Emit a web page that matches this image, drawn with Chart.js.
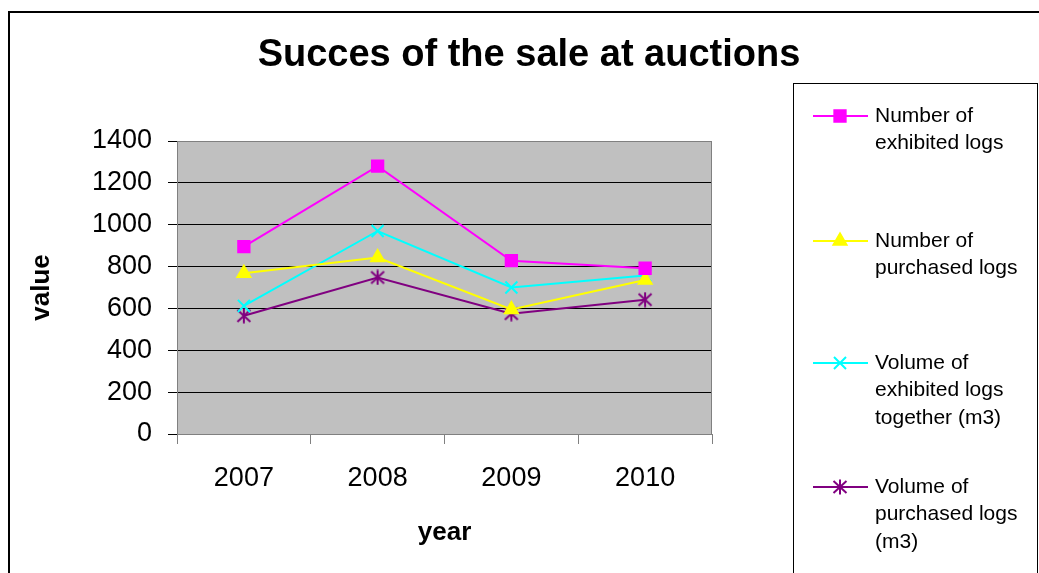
<!DOCTYPE html>
<html>
<head>
<meta charset="utf-8">
<title>Succes of the sale at auctions</title>
<script src="https://cdn.jsdelivr.net/npm/chart.js@4.4.0/dist/chart.umd.min.js"></script>
<style>
  html, body { margin: 0; padding: 0; background: #fff; }
</style>
</head>
<body>
<canvas id="auctionChart" width="1039" height="573"></canvas>
<script>
const years = ['2007', '2008', '2009', '2010'];
const exhibitedLogs = [895, 1280, 828, 792];
const purchasedLogs = [768, 843, 595, 736];
const exhibitedVolume = [612, 970, 700, 757];
const purchasedVolume = [565, 748, 575, 642];
const valueTicks = [0, 200, 400, 600, 800, 1000, 1200, 1400];

const legendLines = [
    ['Number of', 'exhibited logs'],
    ['Number of', 'purchased logs'],
    ['Volume of', 'exhibited logs', 'together (m3)'],
    ['Volume of', 'purchased logs', '(m3)']
];

const FONT = '"Liberation Sans", Arial, sans-serif';

// asterisk marker: an X with a vertical bar through it
function makeAsterisk(color) {
    const c = document.createElement('canvas');
    c.width = 16;
    c.height = 16;
    const g = c.getContext('2d');
    g.strokeStyle = color;
    g.lineWidth = 2;
    g.beginPath();
    g.moveTo(1.5, 2); g.lineTo(14.5, 14);
    g.moveTo(14.5, 2); g.lineTo(1.5, 14);
    g.moveTo(8, 0.5); g.lineTo(8, 15.5);
    g.stroke();
    return c;
}

function series(data, color, pointStyle, radius) {
    return {
        data: data,
        borderColor: color,
        backgroundColor: color,
        borderWidth: 2,
        pointStyle: pointStyle,
        pointRadius: radius,
        pointHoverRadius: radius,
        pointBorderWidth: 2,
        tension: 0
    };
}

const datasets = [
    series(exhibitedLogs, '#FF00FF', 'rect', 8),
    series(purchasedLogs, '#FFFF00', 'triangle', 7.5),
    series(exhibitedVolume, '#00FFFF', 'crossRot', 8.5),
    series(purchasedVolume, '#800080', makeAsterisk('#800080'), 8)
];

const framePlugin = {
    id: 'frame',
    beforeDraw(chart) {
        const { ctx, chartArea: a } = chart;
        ctx.save();
        ctx.fillStyle = '#C0C0C0';
        ctx.fillRect(a.left, a.top, a.right - a.left, a.bottom - a.top);
        ctx.restore();
    },
    beforeDatasetsDraw(chart) {
        const { ctx, chartArea: a } = chart;
        ctx.save();
        ctx.strokeStyle = '#808080';
        ctx.lineWidth = 1;
        ctx.strokeRect(a.left + 0.5, a.top + 0.5, a.right - a.left - 1, a.bottom - a.top);
        ctx.restore();
    },
    afterDraw(chart) {
        const ctx = chart.ctx;
        ctx.save();

        // outer border
        ctx.strokeStyle = '#000';
        ctx.lineWidth = 2;
        ctx.strokeRect(9, 12, 1100, 700);

        // title
        ctx.fillStyle = '#000';
        ctx.font = 'bold 38px ' + FONT;
        ctx.textAlign = 'center';
        ctx.textBaseline = 'middle';
        ctx.fillText('Succes of the sale at auctions', 529, 56);

        // legend box
        ctx.lineWidth = 1;
        ctx.strokeStyle = '#000';
        ctx.strokeRect(793.5, 83.5, 244, 600);

        const itemTops = [116, 241, 363, 487];
        ctx.font = '21px ' + FONT;
        ctx.textAlign = 'left';
        chart.data.datasets.forEach((ds, i) => {
            const y = itemTops[i];
            ctx.strokeStyle = ds.borderColor;
            ctx.fillStyle = ds.backgroundColor;
            ctx.lineWidth = 2;
            ctx.beginPath();
            ctx.moveTo(813, y);
            ctx.lineTo(868, y);
            ctx.stroke();
            Chart.helpers.drawPoint(ctx, {
                pointStyle: ds.pointStyle,
                radius: ds.pointRadius,
                rotation: 0,
                borderWidth: 2
            }, 840, y);
            ctx.fillStyle = '#000';
            legendLines[i].forEach((line, k) => {
                ctx.fillText(line, 875, y + k * 27.5);
            });
        });
        ctx.restore();
    }
};

new Chart(document.getElementById('auctionChart'), {
    type: 'line',
    data: { labels: years, datasets: datasets },
    plugins: [framePlugin],
    options: {
        responsive: false,
        animation: false,
        layout: { padding: { left: 0, top: 141, right: 327, bottom: 0 } },
        plugins: {
            legend: { display: false },
            title: { display: false },
            tooltip: { enabled: false }
        },
        scales: {
            x: {
                offset: true,
                grid: {
                    offset: true,
                    drawOnChartArea: false,
                    drawTicks: true,
                    tickLength: 10,
                    color: '#808080',
                    tickColor: '#808080'
                },
                border: { color: '#808080' },
                ticks: {
                    color: '#000',
                    font: { family: FONT, size: 27 },
                    padding: 18,
                    maxRotation: 0
                },
                title: {
                    display: true,
                    text: 'year',
                    color: '#000',
                    font: { family: FONT, size: 26, weight: 'bold' },
                    padding: { top: 0, bottom: 25 }
                },
                afterFit(scale) { scale.height = 139; }
            },
            y: {
                min: 0,
                max: 1400,
                afterBuildTicks(scale) {
                    scale.ticks = valueTicks.map(v => ({ value: v }));
                },
                grid: { color: '#000', tickColor: '#000', tickLength: 9 },
                border: { color: '#808080' },
                ticks: {
                    color: '#000',
                    font: { family: FONT, size: 27 },
                    padding: 16,
                    callback: value => String(value)
                },
                title: {
                    display: true,
                    text: 'value',
                    color: '#000',
                    font: { family: FONT, size: 26, weight: 'bold' },
                    padding: { top: 26, bottom: 0 }
                },
                afterFit(scale) { scale.width = 177; }
            }
        }
    }
});
</script>
</body>
</html>
